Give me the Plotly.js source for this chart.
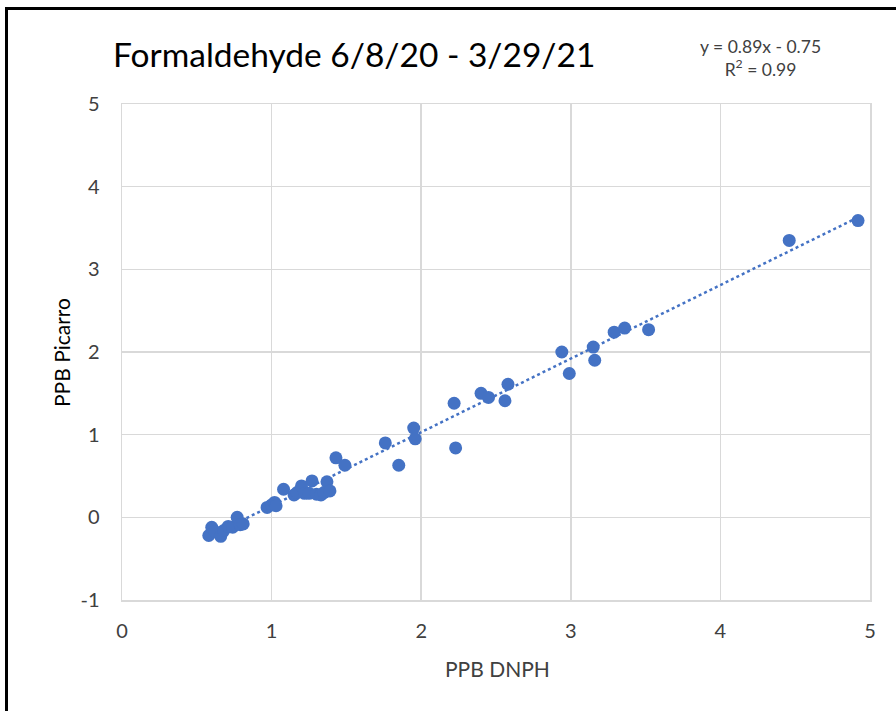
<!DOCTYPE html>
<html>
<head>
<meta charset="utf-8">
<script src="https://cdn.plot.ly/plotly-3.0.1.min.js"></script>
<style>
  html, body { margin: 0; padding: 0; background: #fff; }
  #wrap { position: relative; width: 896px; height: 711px; overflow: hidden; }
  #chart { width: 896px; height: 711px; }
  #frame { position: absolute; left: 5px; top: 7px; width: 900px; height: 720px;
           border-left: 3px solid #000; border-top: 3px solid #000; pointer-events: none; }
</style>
</head>
<body>
<div id="wrap">
  <div id="chart"></div>
  <div id="frame"></div>
</div>
<script>
const dnph = [0.58, 0.60, 0.62, 0.66, 0.68, 0.71, 0.74, 0.77, 0.79, 0.81,
              0.97, 1.00, 1.02, 1.03,
              1.08, 1.15, 1.17, 1.20, 1.22, 1.25, 1.27, 1.30, 1.33, 1.35, 1.37, 1.39,
              1.43, 1.49,
              1.76, 1.85, 1.95, 1.96, 2.22, 2.23, 2.40, 2.45, 2.56, 2.58,
              2.94, 2.99, 3.15, 3.16, 3.29, 3.36, 3.52, 4.46, 4.92];
const picarro = [-0.22, -0.12, -0.17, -0.23, -0.16, -0.11, -0.12, 0.00, -0.09, -0.08,
                 0.12, 0.15, 0.18, 0.14,
                 0.34, 0.27, 0.30, 0.38, 0.29, 0.29, 0.44, 0.28, 0.27, 0.30, 0.43, 0.32,
                 0.72, 0.63,
                 0.90, 0.63, 1.08, 0.95, 1.38, 0.84, 1.50, 1.45, 1.41, 1.61,
                 2.00, 1.74, 2.06, 1.90, 2.24, 2.29, 2.27, 3.35, 3.59];
const fitSlope = 0.89;
const fitIntercept = -0.75;
const xTicks = [0, 1, 2, 3, 4, 5];
const yTicks = [-1, 0, 1, 2, 3, 4, 5];

const xMin = Math.min(...dnph), xMax = Math.max(...dnph);
const trendX = [xMin, xMax];
const trendY = trendX.map(v => fitSlope * v + fitIntercept);

const blue = '#4472C4';
const font = 'Lato, "Open Sans", sans-serif';

const data = [
  { x: trendX, y: trendY, type: 'scatter', mode: 'lines',
    line: { color: blue, width: 2.5, dash: 'dot' }, hoverinfo: 'skip' },
  { x: dnph, y: picarro, type: 'scatter', mode: 'markers',
    marker: { color: blue, size: 13 } }
];

// plot area: left 122, right 870, top 104, bottom 600
const pl = 122, pw = 748, pt = 104, ph = 496;
const px = v => (v - pl) / pw;
const py = v => 1 - (v - pt) / ph;

const layout = {
  width: 896, height: 711,
  paper_bgcolor: '#fff', plot_bgcolor: '#fff',
  showlegend: false,
  margin: { l: 122, r: 26, t: 104, b: 111 },
  font: { family: font, color: '#595959' },
  title: { text: 'Formaldehyde 6/8/20 - 3/29/21', x: 113 / 896, xanchor: 'left',
           y: 1 - 55 / 711, yanchor: 'middle',
           font: { family: font, size: 33.5, color: '#000' } },
  xaxis: {
    range: [0, 5], tickvals: xTicks, ticktext: xTicks.map(String),
    showgrid: true, gridcolor: '#d9d9d9', gridwidth: 1.5, zeroline: false,
    showline: true, linecolor: '#d9d9d9', linewidth: 1.5, mirror: true,
    ticks: 'outside', ticklen: 12, tickcolor: 'rgba(0,0,0,0)',
    tickfont: { family: font, size: 20, color: '#404040' }
  },
  yaxis: {
    range: [-1, 5], tickvals: yTicks, ticktext: yTicks.map(String),
    showgrid: true, gridcolor: '#d9d9d9', gridwidth: 1.5, zeroline: false,
    showline: true, linecolor: '#d9d9d9', linewidth: 1.5, mirror: true,
    ticks: 'outside', ticklen: 17, tickcolor: 'rgba(0,0,0,0)',
    tickfont: { family: font, size: 20, color: '#404040' }
  },
  annotations: [
    { xref: 'paper', yref: 'paper', x: px(760), y: py(58),
      xanchor: 'center', yanchor: 'middle', showarrow: false, align: 'center',
      text: 'y = 0.89x - 0.75<br>R<sup>2</sup> = 0.99',
      font: { family: font, size: 17.5, color: '#404040' } },
    { xref: 'paper', yref: 'paper', x: px(497), y: py(668),
      xanchor: 'center', yanchor: 'middle', showarrow: false,
      text: 'PPB DNPH', font: { family: font, size: 21, color: '#404040' } },
    { xref: 'paper', yref: 'paper', x: px(61), y: py(352),
      xanchor: 'center', yanchor: 'middle', showarrow: false, textangle: -90,
      text: 'PPB Picarro', font: { family: font, size: 21, color: '#000' } }
  ]
};

Plotly.newPlot('chart', data, layout, { displayModeBar: false, staticPlot: true });
</script>
</body>
</html>
